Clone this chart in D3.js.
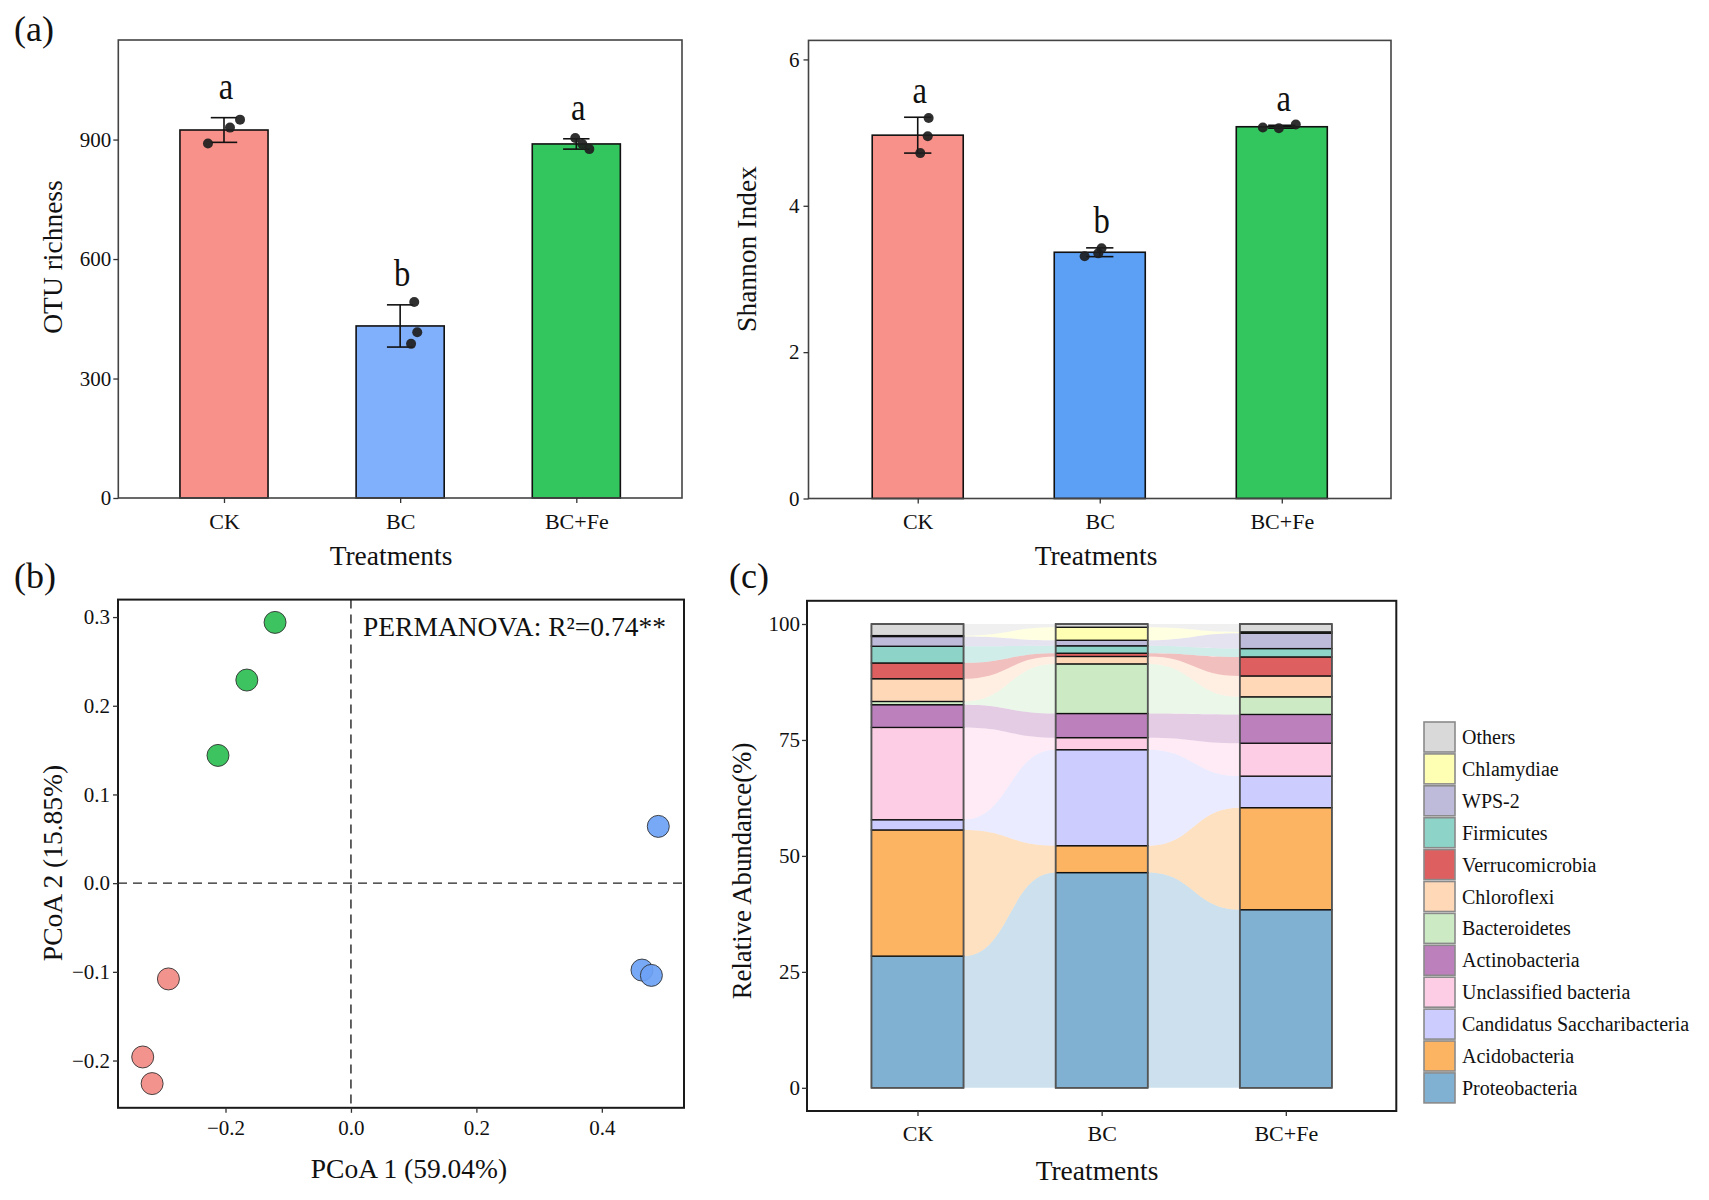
<!DOCTYPE html>
<html>
<head>
<meta charset="utf-8">
<script src="https://cdn.jsdelivr.net/npm/d3@7"></script>
<style>
  html, body { margin: 0; padding: 0; background: #fff; }
  svg { display: block; }
  text { font-family: "Liberation Serif", "Times New Roman", serif; fill: #111; }
</style>
</head>
<body>
<svg id="fig" width="1709" height="1200"></svg>
<script>
// ---------------- DATA ----------------
const treatments = ["CK", "BC", "BC+Fe"];

// Panel (a) left: OTU richness
const otuMean = [924, 432, 889];
const otuErr = [31, 53, 13];
const otuReps = [[890, 930, 950], [492, 416, 387], [904, 889, 876]];
const otuJitter = [[-0.091, 0.034, 0.091], [0.08, 0.097, 0.062], [-0.006, 0.034, 0.074]];
const otuLetters = ["a", "b", "a"];
const otuTicks = [0, 300, 600, 900];

// Panel (a) right: Shannon index
const shanMean = [4.965, 3.365, 5.08];
const shanErr = [0.245, 0.06, 0.02];
const shanReps = [[5.20, 4.95, 4.72], [3.31, 3.35, 3.42], [5.07, 5.06, 5.11]];
const shanJitter = [[0.06, 0.055, 0.014], [-0.083, -0.008, 0.01], [-0.104, -0.016, 0.077]];
const shanLetters = ["a", "b", "a"];
const shanTicks = [0, 2, 4, 6];

// Panel (b): PCoA
const pcoaGroup = ["BC+Fe", "BC+Fe", "BC+Fe", "BC", "BC", "BC", "CK", "CK", "CK"];
const pcoaX = [-0.121, -0.166, -0.212, 0.490, 0.464, 0.479, -0.291, -0.332, -0.317];
const pcoaY = [0.294, 0.229, 0.144, 0.064, -0.098, -0.104, -0.108, -0.196, -0.226];
const pcoaXTicks = [-0.2, 0.0, 0.2, 0.4];
const pcoaYTicks = [-0.2, -0.1, 0.0, 0.1, 0.2, 0.3];

// Panel (c): phylum relative abundance (bottom -> top)
const phyla = ["Proteobacteria", "Acidobacteria", "Candidatus Saccharibacteria", "Unclassified bacteria",
  "Actinobacteria", "Bacteroidetes", "Chloroflexi", "Verrucomicrobia", "Firmicutes", "WPS-2", "Chlamydiae", "Others"];
const abundCK   = [28.4, 27.2, 2.2, 19.9, 4.9, 0.7, 4.9, 3.4, 3.6, 2.1, 0.2, 2.5];
const abundBC   = [46.4, 5.8, 20.7, 2.6, 5.2, 10.7, 1.6, 0.7, 1.6, 1.2, 2.8, 0.7];
const abundBCFe = [38.4, 22.0, 6.8, 7.1, 6.2, 3.8, 4.5, 4.1, 1.8, 3.3, 0.3, 1.7];
const abundTicks = [0, 25, 50, 75, 100];

// ---------------- STYLE ----------------
const colA1 = ["#F8918A", "#80AFFB", "#33C65E"];
const colA2 = ["#F8918A", "#5CA0F5", "#33C65E"];
const colPts = { "CK": "#F28A84", "BC": "#6CA2F5", "BC+Fe": "#2DBE52" };
const phylaColors = ["#80B1D3", "#FDB462", "#CCCCFF", "#FCCDE5", "#BC80BD", "#CCEBC5",
  "#FFD8B8", "#DE5F5F", "#8DD3C7", "#BEBADA", "#FFFFB3", "#D9D9D9"];

const svg = d3.select("#fig");
const FS_TICK = 21, FS_CAT = 22, FS_TITLE = 27.5;

function frame(x0, x1, y0, y1, stroke, sw) {
  svg.append("rect").attr("x", x0).attr("y", y0).attr("width", x1 - x0).attr("height", y1 - y0)
    .attr("fill", "none").attr("stroke", stroke).attr("stroke-width", sw);
}
function styleAxis(g, fs) {
  g.select(".domain").remove();
  g.selectAll(".tick line").attr("stroke", "#333").attr("stroke-width", 1.3);
  g.selectAll(".tick text").attr("font-size", fs).attr("fill", "#111")
    .style("font-family", '"Liberation Serif","Times New Roman",serif');
}
function vTitle(x, y, txt, fs) {
  svg.append("text").attr("transform", `translate(${x},${y}) rotate(-90)`)
    .attr("text-anchor", "middle").attr("font-size", fs || FS_TITLE).text(txt);
}
function hTitle(x, y, txt) {
  svg.append("text").attr("x", x).attr("y", y).attr("text-anchor", "middle")
    .attr("font-size", FS_TITLE).text(txt);
}
function panelLabel(x, y, txt) {
  svg.append("text").attr("x", x).attr("y", y).attr("font-size", 36).text(txt);
}

// ---------------- BAR PANELS ----------------
function barPanel(o) {
  const x = d3.scalePoint().domain(treatments).range([o.x0, o.x1]).padding(0.6);
  const step = x.step();
  const bw = step * 0.5;
  const y = d3.scaleLinear().domain(o.dom).range([o.y1, o.y0]);

  const g = svg.append("g");
  g.selectAll("rect.bar").data(treatments).join("rect")
    .attr("x", d => x(d) - bw / 2).attr("width", bw)
    .attr("y", (d, i) => y(o.mean[i])).attr("height", (d, i) => y(0) - y(o.mean[i]))
    .attr("fill", (d, i) => o.colors[i]).attr("stroke", "#111").attr("stroke-width", 1.6);

  const cap = step * 0.075;
  treatments.forEach((t, i) => {
    const cx = x(t), hi = y(o.mean[i] + o.err[i]), lo = y(o.mean[i] - o.err[i]);
    g.append("line").attr("x1", cx).attr("x2", cx).attr("y1", hi).attr("y2", lo).attr("stroke", "#111").attr("stroke-width", 1.6);
    g.append("line").attr("x1", cx - cap).attr("x2", cx + cap).attr("y1", hi).attr("y2", hi).attr("stroke", "#111").attr("stroke-width", 1.6);
    g.append("line").attr("x1", cx - cap).attr("x2", cx + cap).attr("y1", lo).attr("y2", lo).attr("stroke", "#111").attr("stroke-width", 1.6);
    o.reps[i].forEach((v, j) => {
      g.append("circle").attr("cx", cx + o.jit[i][j] * step).attr("cy", y(v)).attr("r", 5)
        .attr("fill", "#1e1e1e").attr("fill-opacity", 0.92);
    });
    const ly = hi - o.letterGap;
    g.append("text").attr("x", 0).attr("y", 0)
      .attr("transform", `translate(${cx + 2},${ly}) scale(0.86,1)`)
      .attr("text-anchor", "middle").attr("font-size", 38).text(o.letters[i]);
  });

  frame(o.x0, o.x1, o.y0, o.y1, "#444", 1.6);

  const ay = svg.append("g").attr("transform", `translate(${o.x0},0)`)
    .call(d3.axisLeft(y).tickValues(o.ticks).tickSize(5).tickPadding(o.lpad).tickFormat(d3.format("d")));
  styleAxis(ay, FS_TICK);
  const ax = svg.append("g").attr("transform", `translate(0,${o.y1})`)
    .call(d3.axisBottom(x).tickSize(5).tickPadding(10));
  styleAxis(ax, FS_CAT);
}

barPanel({ x0: 118.3, x1: 682, y0: 40, y1: 498, dom: [0, 1150], mean: otuMean, err: otuErr,
  reps: otuReps, jit: otuJitter, letters: otuLetters, ticks: otuTicks, colors: colA1, letterGap: 19, lpad: 2 });
barPanel({ x0: 808.5, x1: 1391, y0: 40.4, y1: 498.5, dom: [0, 6.26], mean: shanMean, err: shanErr,
  reps: shanReps, jit: shanJitter, letters: shanLetters, ticks: shanTicks, colors: colA2, letterGap: 14.5, lpad: 4 });

vTitle(62, 257, "OTU richness");
vTitle(756, 249, "Shannon Index");
hTitle(391, 565, "Treatments");
hTitle(1096, 565, "Treatments");
panelLabel(14, 41, "(a)");

// ---------------- PCoA PANEL ----------------
(function () {
  const x0 = 118, x1 = 684, y0 = 599.6, y1 = 1107.8;
  const x = d3.scaleLinear().domain([-0.3714, 0.531]).range([x0, x1]);
  const y = d3.scaleLinear().domain([-0.2533, 0.3197]).range([y1, y0]);
  svg.append("line").attr("x1", x0).attr("x2", x1).attr("y1", y(0)).attr("y2", y(0))
    .attr("stroke", "#222").attr("stroke-width", 1.4).attr("stroke-dasharray", "9,6");
  svg.append("line").attr("x1", x(0)).attr("x2", x(0)).attr("y1", y0).attr("y2", y1)
    .attr("stroke", "#222").attr("stroke-width", 1.4).attr("stroke-dasharray", "9,6");
  svg.append("g").selectAll("circle").data(pcoaX).join("circle")
    .attr("cx", d => x(d)).attr("cy", (d, i) => y(pcoaY[i])).attr("r", 11)
    .attr("fill", (d, i) => colPts[pcoaGroup[i]]).attr("fill-opacity", 0.92)
    .attr("stroke", "#333").attr("stroke-width", 0.9);
  frame(x0, x1, y0, y1, "#1a1a1a", 2);
  const ay = svg.append("g").attr("transform", `translate(${x0},0)`)
    .call(d3.axisLeft(y).tickValues(pcoaYTicks).tickSize(5).tickPadding(3).tickFormat(d3.format(".1f")));
  styleAxis(ay, FS_TICK);
  const ax = svg.append("g").attr("transform", `translate(0,${y1})`)
    .call(d3.axisBottom(x).tickValues(pcoaXTicks).tickSize(5).tickPadding(7).tickFormat(d3.format(".1f")));
  styleAxis(ax, FS_TICK);
  svg.append("text").attr("x", 363).attr("y", 636).attr("font-size", 27.5).text("PERMANOVA: R²=0.74**");
  vTitle(62, 863, "PCoA 2 (15.85%)");
  hTitle(409, 1178, "PCoA 1 (59.04%)");
  panelLabel(14, 588, "(b)");
})();

// ---------------- ALLUVIAL / STACKED PANEL ----------------
(function () {
  const x0 = 807, x1 = 1396.3, y0 = 600.8, y1 = 1111;
  const x = d3.scalePoint().domain(treatments).range([x0, x1]).padding(0.6);
  const bw = x.step() * 0.5;
  const y = d3.scaleLinear().domain([-5, 105]).range([y1, y0]);
  const abund = [abundCK, abundBC, abundBCFe];
  const tops = abund.map(a => Array.from(d3.cumsum(a)));
  const bots = tops.map((t, i) => t.map((v, k) => v - abund[i][k]));

  const gFlow = svg.append("g");
  for (let i = 0; i < treatments.length - 1; i++) {
    const xa = x(treatments[i]) + bw / 2, xb = x(treatments[i + 1]) - bw / 2, xm = (xa + xb) / 2;
    phyla.forEach((p, k) => {
      const ta = y(tops[i][k]), ba = y(bots[i][k]), tb = y(tops[i + 1][k]), bb = y(bots[i + 1][k]);
      const path = `M${xa},${ta} C${xm},${ta} ${xm},${tb} ${xb},${tb} L${xb},${bb} C${xm},${bb} ${xm},${ba} ${xa},${ba} Z`;
      gFlow.append("path").attr("d", path).attr("fill", phylaColors[k]).attr("fill-opacity", 0.4);
    });
  }
  const gBar = svg.append("g");
  treatments.forEach((t, i) => {
    phyla.forEach((p, k) => {
      gBar.append("rect").attr("x", x(t) - bw / 2).attr("width", bw)
        .attr("y", y(tops[i][k])).attr("height", y(bots[i][k]) - y(tops[i][k]))
        .attr("fill", phylaColors[k]).attr("stroke", "#111").attr("stroke-width", 1.3);
    });
    gBar.append("rect").attr("x", x(t) - bw / 2).attr("width", bw)
      .attr("y", y(100)).attr("height", y(0) - y(100))
      .attr("fill", "none").attr("stroke", "#555").attr("stroke-width", 1.6);
  });
  frame(x0, x1, y0, y1, "#1a1a1a", 2);
  const ay = svg.append("g").attr("transform", `translate(${x0},0)`)
    .call(d3.axisLeft(y).tickValues(abundTicks).tickSize(5).tickPadding(2).tickFormat(d3.format("d")));
  styleAxis(ay, FS_TICK);
  const ax = svg.append("g").attr("transform", `translate(0,${y1})`)
    .call(d3.axisBottom(x).tickSize(5).tickPadding(9));
  styleAxis(ax, FS_CAT);
  vTitle(751, 871, "Relative Abundance(%)", 26.8);
  hTitle(1097, 1180, "Treatments");
  panelLabel(729, 588, "(c)");

  // legend (top: Others ... bottom: Proteobacteria)
  const legOrder = d3.range(phyla.length).reverse();
  const lg = svg.append("g");
  legOrder.forEach((k, j) => {
    const cy = 737 + j * 31.9;
    lg.append("rect").attr("x", 1424).attr("y", cy - 15).attr("width", 31).attr("height", 30)
      .attr("fill", phylaColors[k]).attr("stroke", "#8a8a8a").attr("stroke-width", 1.6);
    lg.append("text").attr("x", 1462).attr("y", cy + 7).attr("font-size", 20).text(phyla[k]);
  });
})();
</script>
</body>
</html>
